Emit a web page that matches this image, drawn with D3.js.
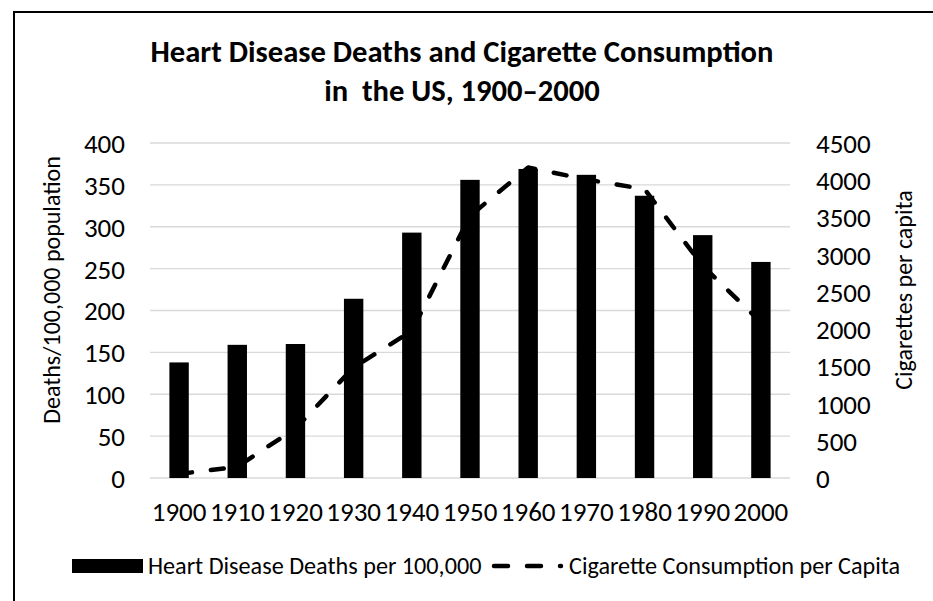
<!DOCTYPE html>
<html><head><meta charset="utf-8">
<script src="https://cdn.jsdelivr.net/npm/d3@7"></script>
<style>
body{margin:0;background:#fff;}
svg text{font-family:Carlito,Calibri,Lato,"Open Sans",sans-serif;fill:#000;}
</style></head><body>
<svg id="c" width="933" height="601"></svg>
<script>
const years = ["1900","1910","1920","1930","1940","1950","1960","1970","1980","1990","2000"];
const deaths = [138,159,160,214,293,356,369,362,337,290,258];
const cigarettes = [54,151,665,1485,1976,3520,4171,4010,3880,2850,2092];
const leftTicks = [0,50,100,150,200,250,300,350,400];
const rightTicks = [0,500,1000,1500,2000,2500,3000,3500,4000,4500];
const titleLines = ["Heart Disease Deaths and Cigarette Consumption","in  the US, 1900–2000"];

const svg = d3.select("#c");
svg.append("rect").attr("x",0).attr("y",0).attr("width",933).attr("height",601).attr("fill","#fff");
svg.append("rect").attr("x",14).attr("y",12).attr("width",940).attr("height",620)
  .attr("fill","none").attr("stroke","#000").attr("stroke-width",2);

const L=150,R=790,T=143,B=478;
const x = d3.scaleBand().domain(years).range([L,R]).paddingInner(2/3).paddingOuter(1/3);
const yL = d3.scaleLinear().domain([0,400]).range([B,T]);
const yR = d3.scaleLinear().domain([0,4500]).range([B,T]);

// gridlines
svg.append("g").selectAll("line").data(leftTicks).join("line")
  .attr("x1",L).attr("x2",R).attr("y1",d=>yL(d)).attr("y2",d=>yL(d))
  .attr("stroke","#d9d9d9").attr("stroke-width",1.3);

const tickFS = "27px";
const gl = svg.append("g").attr("transform",`translate(${L},0)`)
  .call(d3.axisLeft(yL).tickValues(leftTicks).tickSize(0).tickPadding(25).tickFormat(d3.format("d")));
gl.select(".domain").remove();
gl.selectAll("text").style("font-size",tickFS).attr("dy","0.35em");

const gr = svg.append("g").attr("transform",`translate(${R},0)`)
  .call(d3.axisRight(yR).tickValues(rightTicks).tickSize(0).tickPadding(26).tickFormat(d3.format("d")));
gr.select(".domain").remove();
gr.selectAll("text").style("font-size",tickFS).attr("dy","0.35em");

const gx = svg.append("g").attr("transform",`translate(0,${B})`)
  .call(d3.axisBottom(x).tickSize(0).tickPadding(24));
gx.select(".domain").remove();
gx.selectAll("text").style("font-size",tickFS).attr("dy","0.71em");

// bars
svg.append("g").selectAll("rect").data(years).join("rect")
  .attr("x",d=>x(d)).attr("width",x.bandwidth())
  .attr("y",(d,i)=>yL(deaths[i])).attr("height",(d,i)=>B-yL(deaths[i]))
  .attr("fill","#000");

// line
const line = d3.line().x((d,i)=>x(years[i])+x.bandwidth()/2).y(d=>yR(d));
svg.append("path").datum(cigarettes).attr("d",line)
  .attr("fill","none").attr("stroke","#000").attr("stroke-width",4.5)
  .attr("stroke-dasharray","13,19").attr("stroke-linecap","round").attr("stroke-linejoin","round");

// title
svg.append("g").selectAll("text").data(titleLines).join("text")
  .attr("x",462).attr("y",(d,i)=>62+i*39).attr("text-anchor","middle")
  .style("font-size","30.6px").style("font-weight","bold").style("white-space","pre").text(d=>d);

// axis titles
svg.append("text").attr("transform","translate(52,290) rotate(-90)").attr("text-anchor","middle")
  .attr("dy","0.35em").style("font-size","24px").text("Deaths/100,000 population");
svg.append("text").attr("transform","translate(904,290) rotate(-90)").attr("text-anchor","middle")
  .attr("dy","0.35em").style("font-size","24px").text("Cigarettes per capita");

// legend
const lg = svg.append("g");
lg.append("rect").attr("x",72).attr("y",559).attr("width",71).attr("height",14).attr("fill","#000");
lg.append("text").attr("x",148).attr("y",566).attr("dy","0.35em").style("font-size","24.2px").text("Heart Disease Deaths per 100,000");
lg.append("line").attr("x1",494).attr("x2",561).attr("y1",566).attr("y2",566)
  .attr("stroke","#000").attr("stroke-width",4.5).attr("stroke-dasharray","14,19").attr("stroke-linecap","round");
lg.append("text").attr("x",569).attr("y",566).attr("dy","0.35em").style("font-size","24.2px").text("Cigarette Consumption per Capita");
</script>
</body></html>
